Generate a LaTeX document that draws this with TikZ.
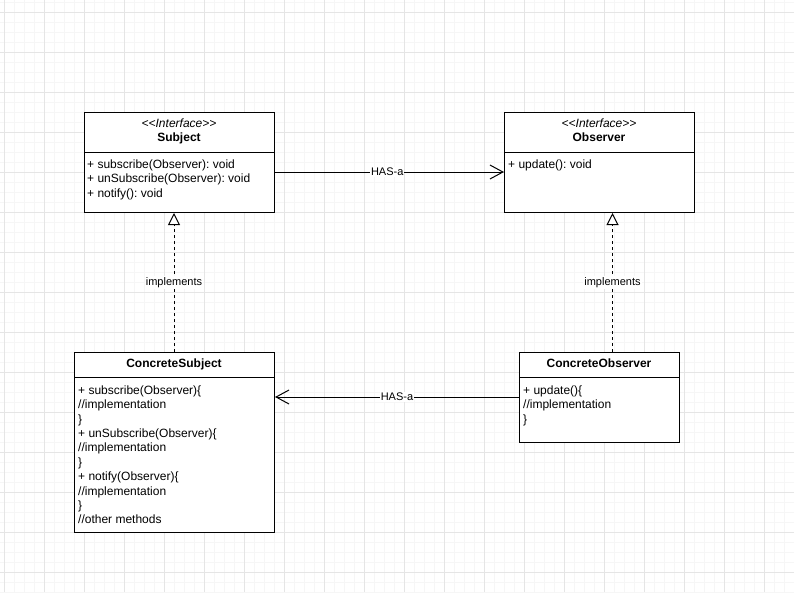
\documentclass[tikz,border=0pt]{standalone}
\usepackage{fontspec}
\setmainfont{Liberation Sans}[Ligatures=TeXOff]
\usetikzlibrary{arrows.meta}
\definecolor{minorgrid}{HTML}{F6F6F6}
\definecolor{majorgrid}{HTML}{E5E5E5}
\frenchspacing
\tikzset{
  gridminor/.style={draw=minorgrid, line width=0.6pt},
  gridmajor/.style={draw=majorgrid, line width=0.7pt},
  umlbox/.style={draw=black, fill=white, line width=1pt, anchor=north west, inner sep=0pt},
  divider/.style={draw=black, line width=1pt},
  stereo/.style={font=\fontsize{12pt}{14pt}\selectfont\itshape, anchor=base, inner sep=0pt},
  cname/.style={font=\fontsize{12pt}{14pt}\selectfont\bfseries, anchor=base, inner sep=0pt},
  member/.style={font=\fontsize{12pt}{14pt}\selectfont, anchor=base west, inner sep=0pt},
  edgelabel/.style={font=\fontsize{11pt}{13pt}\selectfont, fill=white, inner sep=1pt},
  hasa/.style={draw=black, line width=1pt, -{Straight Barb[length=13pt, width=14pt, line width=1pt]}},
  realizes/.style={draw=black, line width=1pt, dash pattern=on 3pt off 3pt, -{Triangle[open, length=12pt, width=12pt, line width=1pt, fill=white]}}
}
\begin{document}
\begin{tikzpicture}[x=1pt, y=-1pt]
\useasboundingbox (0,0) rectangle (794,592);
\fill[white] (0,0) rectangle (794,592);
% grid
\foreach \gx in {4,14,...,794} \draw[gridminor] (\gx,0) -- (\gx,592);
\foreach \gy in {2,12,...,592} \draw[gridminor] (0,\gy) -- (794,\gy);
\foreach \gx in {4,44,...,794} \draw[gridmajor] (\gx,0) -- (\gx,592);
\foreach \gy in {12,52,...,592} \draw[gridmajor] (0,\gy) -- (794,\gy);

% Subject
\node[umlbox, minimum width=190pt, minimum height=100pt] (subject) at (84,112) {};
\draw[divider] ([yshift=-40pt]subject.north west) -- ([yshift=-40pt]subject.north east);
\node[stereo] (subjstereo) at (179,127) {<<Interface>>};
\node[cname] (subjname) at (179,141) {Subject};
\node[member] (sm1) at (87,168) {+ subscribe(Observer): void};
\node[member] (sm2) at (87,182.5) {+ unSubscribe(Observer): void};
\node[member] (sm3) at (87,197) {+ notify(): void};

% Observer
\node[umlbox, minimum width=190pt, minimum height=100pt] (observer) at (504,112) {};
\draw[divider] ([yshift=-40pt]observer.north west) -- ([yshift=-40pt]observer.north east);
\node[stereo] (obsstereo) at (599,127) {<<Interface>>};
\node[cname] (obsname) at (599,141) {Observer};
\node[member] (om1) at (508,168) {+ update(): void};

% ConcreteSubject
\node[umlbox, minimum width=200pt, minimum height=180pt] (csubject) at (74,352) {};
\draw[divider] ([yshift=-25pt]csubject.north west) -- ([yshift=-25pt]csubject.north east);
\node[cname] (csname) at (174,367) {ConcreteSubject};
\node[member] (cs1) at (78,394.3) {+ subscribe(Observer)\{};
\node[member] (cs2) at (78,408.7) {//implementation};
\node[member] (cs3) at (78,423.1) {\}};
\node[member] (cs4) at (78,437.5) {+ unSubscribe(Observer)\{};
\node[member] (cs5) at (78,451.9) {//implementation};
\node[member] (cs6) at (78,466.3) {\}};
\node[member] (cs7) at (78,480.7) {+ notify(Observer)\{};
\node[member] (cs8) at (78,495.1) {//implementation};
\node[member] (cs9) at (78,509.5) {\}};
\node[member] (cs10) at (78,523.9) {//other methods};

% ConcreteObserver
\node[umlbox, minimum width=160pt, minimum height=90pt] (cobserver) at (519,352) {};
\draw[divider] ([yshift=-25pt]cobserver.north west) -- ([yshift=-25pt]cobserver.north east);
\node[cname] (coname) at (599,367) {ConcreteObserver};
\node[member] (co1) at (523,394.3) {+ update()\{};
\node[member] (co2) at (523,408.7) {//implementation};
\node[member] (co3) at (523,423.1) {\}};

% connectors
\draw[hasa] ([yshift=-60pt]subject.north east) -- node[edgelabel, pos=0.49] (hasa1) {HAS-a} ([yshift=-60pt]observer.north west);
\draw[hasa] ([yshift=-45pt]cobserver.north west) -- node[edgelabel, pos=0.5] (hasa2) {HAS-a} ([yshift=-45pt]csubject.north east);
\draw[realizes] ([xshift=-0.5pt]csubject.north) -- node[edgelabel, pos=0.5] (impl1) {implements} ([xshift=-5.5pt]subject.south);
\draw[realizes] ([xshift=13pt]cobserver.north) -- node[edgelabel, pos=0.5] (impl2) {implements} ([xshift=13pt]observer.south);
\end{tikzpicture}
\end{document}
